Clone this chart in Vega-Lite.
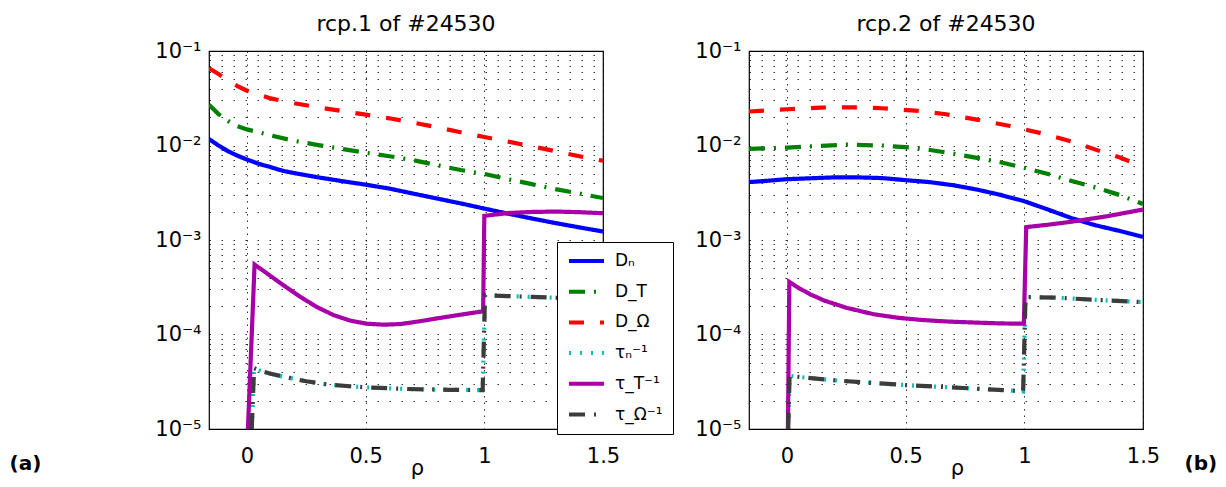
{
  "$schema": "https://vega.github.io/schema/vega-lite/v6.json",
  "padding": {"left": 8, "top": 12, "right": 5, "bottom": 2},
  "autosize": {"type": "pad"},
  "background": "white",
  "config": {
    "font": "DejaVu Sans",
    "view": {"stroke": "#000", "strokeWidth": 1.2},
    "axis": {"labelColor": "#000", "titleColor": "#000", "labelFont": "DejaVu Sans", "titleFont": "DejaVu Sans"}
  },
  "datasets": {
    "d": [
      {"p":1,"s":"Dₙ","x":-0.16,"y":0.0117},{"p":1,"s":"Dₙ","x":-0.12,"y":0.0100},{"p":1,"s":"Dₙ","x":-0.08,"y":0.0087},{"p":1,"s":"Dₙ","x":-0.04,"y":0.0078},{"p":1,"s":"Dₙ","x":0,"y":0.0071},{"p":1,"s":"Dₙ","x":0.05,"y":0.0064},{"p":1,"s":"Dₙ","x":0.1,"y":0.0059},{"p":1,"s":"Dₙ","x":0.15,"y":0.0054},{"p":1,"s":"Dₙ","x":0.2,"y":0.0051},{"p":1,"s":"Dₙ","x":0.3,"y":0.0046},{"p":1,"s":"Dₙ","x":0.4,"y":0.0042},{"p":1,"s":"Dₙ","x":0.5,"y":0.00385},{"p":1,"s":"Dₙ","x":0.6,"y":0.0035},{"p":1,"s":"Dₙ","x":0.7,"y":0.0031},{"p":1,"s":"Dₙ","x":0.8,"y":0.00275},{"p":1,"s":"Dₙ","x":0.9,"y":0.00244},{"p":1,"s":"Dₙ","x":1.0,"y":0.00215},{"p":1,"s":"Dₙ","x":1.1,"y":0.0019},{"p":1,"s":"Dₙ","x":1.2,"y":0.00169},{"p":1,"s":"Dₙ","x":1.3,"y":0.00151},{"p":1,"s":"Dₙ","x":1.4,"y":0.00136},{"p":1,"s":"Dₙ","x":1.5,"y":0.00123},
      {"p":1,"s":"D_T","x":-0.16,"y":0.027},{"p":1,"s":"D_T","x":-0.12,"y":0.0215},{"p":1,"s":"D_T","x":-0.08,"y":0.0182},{"p":1,"s":"D_T","x":-0.04,"y":0.016},{"p":1,"s":"D_T","x":0,"y":0.0148},{"p":1,"s":"D_T","x":0.05,"y":0.0138},{"p":1,"s":"D_T","x":0.1,"y":0.0128},{"p":1,"s":"D_T","x":0.2,"y":0.0112},{"p":1,"s":"D_T","x":0.3,"y":0.0101},{"p":1,"s":"D_T","x":0.4,"y":0.0092},{"p":1,"s":"D_T","x":0.5,"y":0.0084},{"p":1,"s":"D_T","x":0.6,"y":0.0077},{"p":1,"s":"D_T","x":0.7,"y":0.007},{"p":1,"s":"D_T","x":0.8,"y":0.0062},{"p":1,"s":"D_T","x":0.9,"y":0.0055},{"p":1,"s":"D_T","x":1.0,"y":0.005},{"p":1,"s":"D_T","x":1.1,"y":0.0044},{"p":1,"s":"D_T","x":1.2,"y":0.0039},{"p":1,"s":"D_T","x":1.3,"y":0.00345},{"p":1,"s":"D_T","x":1.4,"y":0.0031},{"p":1,"s":"D_T","x":1.5,"y":0.00278},
      {"p":1,"s":"D_Ω","x":-0.16,"y":0.0655},{"p":1,"s":"D_Ω","x":-0.12,"y":0.057},{"p":1,"s":"D_Ω","x":-0.08,"y":0.049},{"p":1,"s":"D_Ω","x":-0.04,"y":0.0425},{"p":1,"s":"D_Ω","x":0,"y":0.038},{"p":1,"s":"D_Ω","x":0.05,"y":0.0345},{"p":1,"s":"D_Ω","x":0.1,"y":0.0315},{"p":1,"s":"D_Ω","x":0.2,"y":0.028},{"p":1,"s":"D_Ω","x":0.3,"y":0.0253},{"p":1,"s":"D_Ω","x":0.4,"y":0.0232},{"p":1,"s":"D_Ω","x":0.5,"y":0.0212},{"p":1,"s":"D_Ω","x":0.6,"y":0.0194},{"p":1,"s":"D_Ω","x":0.7,"y":0.0175},{"p":1,"s":"D_Ω","x":0.8,"y":0.0156},{"p":1,"s":"D_Ω","x":0.9,"y":0.0138},{"p":1,"s":"D_Ω","x":1.0,"y":0.0123},{"p":1,"s":"D_Ω","x":1.1,"y":0.011},{"p":1,"s":"D_Ω","x":1.2,"y":0.0098},{"p":1,"s":"D_Ω","x":1.3,"y":0.0087},{"p":1,"s":"D_Ω","x":1.4,"y":0.0077},{"p":1,"s":"D_Ω","x":1.5,"y":0.0069},
      {"p":1,"s":"τₙ⁻¹","x":0.02,"y":1e-5},{"p":1,"s":"τₙ⁻¹","x":0.03,"y":4.4e-5},{"p":1,"s":"τₙ⁻¹","x":0.06,"y":4.1e-5},{"p":1,"s":"τₙ⁻¹","x":0.1,"y":3.85e-5},{"p":1,"s":"τₙ⁻¹","x":0.155,"y":3.57e-5},{"p":1,"s":"τₙ⁻¹","x":0.25,"y":3.2e-5},{"p":1,"s":"τₙ⁻¹","x":0.34,"y":2.96e-5},{"p":1,"s":"τₙ⁻¹","x":0.42,"y":2.85e-5},{"p":1,"s":"τₙ⁻¹","x":0.5,"y":2.76e-5},{"p":1,"s":"τₙ⁻¹","x":0.675,"y":2.65e-5},{"p":1,"s":"τₙ⁻¹","x":0.85,"y":2.6e-5},{"p":1,"s":"τₙ⁻¹","x":0.993,"y":2.58e-5},{"p":1,"s":"τₙ⁻¹","x":1.003,"y":2.6e-4},{"p":1,"s":"τₙ⁻¹","x":1.1,"y":2.55e-4},{"p":1,"s":"τₙ⁻¹","x":1.2,"y":2.5e-4},{"p":1,"s":"τₙ⁻¹","x":1.3,"y":2.45e-4},{"p":1,"s":"τₙ⁻¹","x":1.4,"y":2.42e-4},{"p":1,"s":"τₙ⁻¹","x":1.5,"y":2.4e-4},
      {"p":1,"s":"τ_T⁻¹","x":0.004,"y":1e-5},{"p":1,"s":"τ_T⁻¹","x":0.032,"y":5.5e-4},{"p":1,"s":"τ_T⁻¹","x":0.06,"y":4.9e-4},{"p":1,"s":"τ_T⁻¹","x":0.1,"y":4.15e-4},{"p":1,"s":"τ_T⁻¹","x":0.155,"y":3.3e-4},{"p":1,"s":"τ_T⁻¹","x":0.225,"y":2.5e-4},{"p":1,"s":"τ_T⁻¹","x":0.295,"y":1.95e-4},{"p":1,"s":"τ_T⁻¹","x":0.366,"y":1.6e-4},{"p":1,"s":"τ_T⁻¹","x":0.436,"y":1.4e-4},{"p":1,"s":"τ_T⁻¹","x":0.506,"y":1.3e-4},{"p":1,"s":"τ_T⁻¹","x":0.577,"y":1.27e-4},{"p":1,"s":"τ_T⁻¹","x":0.647,"y":1.29e-4},{"p":1,"s":"τ_T⁻¹","x":0.72,"y":1.37e-4},{"p":1,"s":"τ_T⁻¹","x":0.8,"y":1.48e-4},{"p":1,"s":"τ_T⁻¹","x":0.9,"y":1.62e-4},{"p":1,"s":"τ_T⁻¹","x":0.995,"y":1.76e-4},{"p":1,"s":"τ_T⁻¹","x":1.0,"y":1.8e-3},{"p":1,"s":"τ_T⁻¹","x":1.1,"y":1.93e-3},{"p":1,"s":"τ_T⁻¹","x":1.2,"y":1.98e-3},{"p":1,"s":"τ_T⁻¹","x":1.3,"y":2.0e-3},{"p":1,"s":"τ_T⁻¹","x":1.4,"y":1.97e-3},{"p":1,"s":"τ_T⁻¹","x":1.5,"y":1.92e-3},
      {"p":1,"s":"τ_Ω⁻¹","x":0.02,"y":1e-5},{"p":1,"s":"τ_Ω⁻¹","x":0.03,"y":4.4e-5},{"p":1,"s":"τ_Ω⁻¹","x":0.06,"y":4.1e-5},{"p":1,"s":"τ_Ω⁻¹","x":0.1,"y":3.85e-5},{"p":1,"s":"τ_Ω⁻¹","x":0.155,"y":3.57e-5},{"p":1,"s":"τ_Ω⁻¹","x":0.25,"y":3.2e-5},{"p":1,"s":"τ_Ω⁻¹","x":0.34,"y":2.96e-5},{"p":1,"s":"τ_Ω⁻¹","x":0.42,"y":2.85e-5},{"p":1,"s":"τ_Ω⁻¹","x":0.5,"y":2.76e-5},{"p":1,"s":"τ_Ω⁻¹","x":0.675,"y":2.65e-5},{"p":1,"s":"τ_Ω⁻¹","x":0.85,"y":2.6e-5},{"p":1,"s":"τ_Ω⁻¹","x":0.993,"y":2.58e-5},{"p":1,"s":"τ_Ω⁻¹","x":1.003,"y":2.6e-4},{"p":1,"s":"τ_Ω⁻¹","x":1.1,"y":2.55e-4},{"p":1,"s":"τ_Ω⁻¹","x":1.2,"y":2.5e-4},{"p":1,"s":"τ_Ω⁻¹","x":1.3,"y":2.45e-4},{"p":1,"s":"τ_Ω⁻¹","x":1.4,"y":2.42e-4},{"p":1,"s":"τ_Ω⁻¹","x":1.5,"y":2.4e-4},
      {"p":2,"s":"Dₙ","x":-0.16,"y":0.0041},{"p":2,"s":"Dₙ","x":-0.1,"y":0.0042},{"p":2,"s":"Dₙ","x":0,"y":0.0044},{"p":2,"s":"Dₙ","x":0.1,"y":0.0045},{"p":2,"s":"Dₙ","x":0.2,"y":0.0046},{"p":2,"s":"Dₙ","x":0.3,"y":0.0046},{"p":2,"s":"Dₙ","x":0.4,"y":0.00452},{"p":2,"s":"Dₙ","x":0.5,"y":0.0043},{"p":2,"s":"Dₙ","x":0.6,"y":0.0041},{"p":2,"s":"Dₙ","x":0.7,"y":0.0038},{"p":2,"s":"Dₙ","x":0.8,"y":0.00342},{"p":2,"s":"Dₙ","x":0.9,"y":0.003},{"p":2,"s":"Dₙ","x":1.0,"y":0.00257},{"p":2,"s":"Dₙ","x":1.1,"y":0.0021},{"p":2,"s":"Dₙ","x":1.2,"y":0.0017},{"p":2,"s":"Dₙ","x":1.3,"y":0.00143},{"p":2,"s":"Dₙ","x":1.4,"y":0.00125},{"p":2,"s":"Dₙ","x":1.5,"y":0.00108},
      {"p":2,"s":"D_T","x":-0.16,"y":0.0092},{"p":2,"s":"D_T","x":0,"y":0.0095},{"p":2,"s":"D_T","x":0.1,"y":0.0098},{"p":2,"s":"D_T","x":0.25,"y":0.0102},{"p":2,"s":"D_T","x":0.4,"y":0.01},{"p":2,"s":"D_T","x":0.55,"y":0.0094},{"p":2,"s":"D_T","x":0.7,"y":0.0082},{"p":2,"s":"D_T","x":0.8,"y":0.0074},{"p":2,"s":"D_T","x":0.9,"y":0.00665},{"p":2,"s":"D_T","x":1.0,"y":0.0058},{"p":2,"s":"D_T","x":1.1,"y":0.005},{"p":2,"s":"D_T","x":1.2,"y":0.0042},{"p":2,"s":"D_T","x":1.3,"y":0.0036},{"p":2,"s":"D_T","x":1.4,"y":0.003},{"p":2,"s":"D_T","x":1.5,"y":0.0024},
      {"p":2,"s":"D_Ω","x":-0.16,"y":0.0229},{"p":2,"s":"D_Ω","x":0,"y":0.0242},{"p":2,"s":"D_Ω","x":0.14,"y":0.0252},{"p":2,"s":"D_Ω","x":0.28,"y":0.0254},{"p":2,"s":"D_Ω","x":0.4,"y":0.0248},{"p":2,"s":"D_Ω","x":0.54,"y":0.0234},{"p":2,"s":"D_Ω","x":0.67,"y":0.0214},{"p":2,"s":"D_Ω","x":0.8,"y":0.0188},{"p":2,"s":"D_Ω","x":0.94,"y":0.0161},{"p":2,"s":"D_Ω","x":1.07,"y":0.0135},{"p":2,"s":"D_Ω","x":1.2,"y":0.011},{"p":2,"s":"D_Ω","x":1.32,"y":0.0087},{"p":2,"s":"D_Ω","x":1.4,"y":0.0075},{"p":2,"s":"D_Ω","x":1.5,"y":0.006},
      {"p":2,"s":"τₙ⁻¹","x":0.005,"y":1e-5},{"p":2,"s":"τₙ⁻¹","x":0.011,"y":3.65e-5},{"p":2,"s":"τₙ⁻¹","x":0.1,"y":3.45e-5},{"p":2,"s":"τₙ⁻¹","x":0.224,"y":3.24e-5},{"p":2,"s":"τₙ⁻¹","x":0.505,"y":2.91e-5},{"p":2,"s":"τₙ⁻¹","x":0.785,"y":2.68e-5},{"p":2,"s":"τₙ⁻¹","x":0.968,"y":2.53e-5},{"p":2,"s":"τₙ⁻¹","x":0.995,"y":2.5e-5},{"p":2,"s":"τₙ⁻¹","x":1.005,"y":2.5e-4},{"p":2,"s":"τₙ⁻¹","x":1.135,"y":2.45e-4},{"p":2,"s":"τₙ⁻¹","x":1.3,"y":2.33e-4},{"p":2,"s":"τₙ⁻¹","x":1.5,"y":2.2e-4},
      {"p":2,"s":"τ_T⁻¹","x":0.004,"y":1e-5},{"p":2,"s":"τ_T⁻¹","x":0.01,"y":3.6e-4},{"p":2,"s":"τ_T⁻¹","x":0.05,"y":3.1e-4},{"p":2,"s":"τ_T⁻¹","x":0.1,"y":2.65e-4},{"p":2,"s":"τ_T⁻¹","x":0.154,"y":2.3e-4},{"p":2,"s":"τ_T⁻¹","x":0.25,"y":1.92e-4},{"p":2,"s":"τ_T⁻¹","x":0.364,"y":1.64e-4},{"p":2,"s":"τ_T⁻¹","x":0.47,"y":1.5e-4},{"p":2,"s":"τ_T⁻¹","x":0.575,"y":1.42e-4},{"p":2,"s":"τ_T⁻¹","x":0.68,"y":1.37e-4},{"p":2,"s":"τ_T⁻¹","x":0.785,"y":1.34e-4},{"p":2,"s":"τ_T⁻¹","x":0.9,"y":1.31e-4},{"p":2,"s":"τ_T⁻¹","x":0.998,"y":1.3e-4},{"p":2,"s":"τ_T⁻¹","x":1.008,"y":1.37e-3},{"p":2,"s":"τ_T⁻¹","x":1.1,"y":1.45e-3},{"p":2,"s":"τ_T⁻¹","x":1.206,"y":1.57e-3},{"p":2,"s":"τ_T⁻¹","x":1.346,"y":1.78e-3},{"p":2,"s":"τ_T⁻¹","x":1.5,"y":2.1e-3},
      {"p":2,"s":"τ_Ω⁻¹","x":0.005,"y":1e-5},{"p":2,"s":"τ_Ω⁻¹","x":0.011,"y":3.65e-5},{"p":2,"s":"τ_Ω⁻¹","x":0.1,"y":3.45e-5},{"p":2,"s":"τ_Ω⁻¹","x":0.224,"y":3.24e-5},{"p":2,"s":"τ_Ω⁻¹","x":0.505,"y":2.91e-5},{"p":2,"s":"τ_Ω⁻¹","x":0.785,"y":2.68e-5},{"p":2,"s":"τ_Ω⁻¹","x":0.968,"y":2.53e-5},{"p":2,"s":"τ_Ω⁻¹","x":0.995,"y":2.5e-5},{"p":2,"s":"τ_Ω⁻¹","x":1.005,"y":2.5e-4},{"p":2,"s":"τ_Ω⁻¹","x":1.135,"y":2.45e-4},{"p":2,"s":"τ_Ω⁻¹","x":1.3,"y":2.33e-4},{"p":2,"s":"τ_Ω⁻¹","x":1.5,"y":2.2e-4}
    ]
  },
  "spacing": 146,
  "bounds": "flush",
  "resolve": {"scale": {"color": "shared", "strokeDash": "shared"}, "legend": {"color": "shared", "strokeDash": "shared"}},
  "hconcat": [
    {
      "width": 394, "height": 378,
      "title": {"text": "rcp.1 of #24530", "fontSize": 22, "fontWeight": "normal", "font": "DejaVu Sans", "color": "#000", "anchor": "middle", "frame": "group", "baseline": "alphabetic", "offset": -13},
      "data": {"name": "d"},
      "transform": [{"filter": "datum.p == 1"}],
      "mark": {"type": "line", "clip": true, "strokeWidth": 4.2, "strokeCap": "butt", "strokeJoin": "miter"},
      "encoding": {
        "x": {"field": "x", "type": "quantitative", "scale": {"domain": [-0.16, 1.5], "nice": false, "zero": false},
          "axis": {"values": [0, 0.5, 1, 1.5], "format": ".2~f", "grid": true, "gridDash": [1.5, 5], "gridColor": "#000", "gridOpacity": 0.8, "ticks": false, "domain": false, "labelFontSize": 21, "labelPadding": 16, "labelFlush": false, "title": "ρ", "titleFontSize": 21, "titleFontWeight": "normal", "titleX": 208, "titleY": 45, "titleBaseline": "alphabetic"}},
        "y": {"field": "y", "type": "quantitative", "scale": {"type": "log", "domain": [1e-5, 0.1], "nice": false},
          "axis": {"values": [1e-5,2e-5,3e-5,4e-5,5e-5,6e-5,7e-5,8e-5,9e-5,1e-4,2e-4,3e-4,4e-4,5e-4,6e-4,7e-4,8e-4,9e-4,1e-3,2e-3,3e-3,4e-3,5e-3,6e-3,7e-3,8e-3,9e-3,0.01,0.02,0.03,0.04,0.05,0.06,0.07,0.08,0.09,0.1],
            "labelExpr": "datum.value < 1.5e-5 ? '10⁻⁵' : (datum.value > 0.9e-4 && datum.value < 1.1e-4) ? '10⁻⁴' : (datum.value > 0.9e-3 && datum.value < 1.1e-3) ? '10⁻³' : (datum.value > 0.9e-2 && datum.value < 1.1e-2) ? '10⁻²' : datum.value > 0.095 ? '10⁻¹' : ''",
            "labelOverlap": false, "labelFlush": false, "grid": true, "gridDash": [1.5, 10.5], "gridColor": "#000", "gridOpacity": 0.8, "ticks": false, "domain": false, "labelFontSize": 21, "labelPadding": 8,
            "title": "(a)", "titleAngle": 0, "titleX": -200, "titleY": 412, "titleAlign": "left", "titleBaseline": "middle", "titleFontWeight": "bold", "titleFontSize": 20}},
        "color": {"field": "s", "type": "nominal",
          "scale": {"domain": ["Dₙ","D_T","D_Ω","τₙ⁻¹","τ_T⁻¹","τ_Ω⁻¹"], "range": ["#0000ff","#008000","#ff0000","#00bfbf","#a800a8","#3c3c3c"]},
          "legend": {"orient": "none", "legendX": 348, "legendY": 191, "title": null, "symbolType": "stroke", "symbolSize": 1225, "symbolStrokeWidth": 4, "labelFontSize": 17, "labelFont": "DejaVu Sans", "labelColor": "#000", "labelOffset": 9, "padding": 10, "rowPadding": 12.7, "clipHeight": 18, "strokeColor": "#000", "fillColor": "#fff", "cornerRadius": 0}},
        "strokeDash": {"field": "s", "type": "nominal",
          "scale": {"domain": ["Dₙ","D_T","D_Ω","τₙ⁻¹","τ_T⁻¹","τ_Ω⁻¹"], "range": [[1,0],[16,9,2,9],[15,16],[2,9],[1,0],[16,9,2,9]]},
          "legend": {"orient": "none", "legendX": 348, "legendY": 191, "title": null, "symbolType": "stroke", "symbolSize": 1225, "symbolStrokeWidth": 4, "labelFontSize": 17, "labelFont": "DejaVu Sans", "labelColor": "#000", "labelOffset": 9, "padding": 10, "rowPadding": 12.7, "clipHeight": 18, "strokeColor": "#000", "fillColor": "#fff", "cornerRadius": 0}}
      }
    },
    {
      "width": 394, "height": 378,
      "title": {"text": "rcp.2 of #24530", "fontSize": 22, "fontWeight": "normal", "font": "DejaVu Sans", "color": "#000", "anchor": "middle", "frame": "group", "baseline": "alphabetic", "offset": -13},
      "data": {"name": "d"},
      "transform": [{"filter": "datum.p == 2"}],
      "mark": {"type": "line", "clip": true, "strokeWidth": 4.2, "strokeCap": "butt", "strokeJoin": "miter"},
      "encoding": {
        "x": {"field": "x", "type": "quantitative", "scale": {"domain": [-0.16, 1.5], "nice": false, "zero": false},
          "axis": {"values": [0, 0.5, 1, 1.5], "format": ".2~f", "grid": true, "gridDash": [1.5, 5], "gridColor": "#000", "gridOpacity": 0.8, "ticks": false, "domain": false, "labelFontSize": 21, "labelPadding": 16, "labelFlush": false, "title": "ρ", "titleFontSize": 21, "titleFontWeight": "normal", "titleX": 208, "titleY": 45, "titleBaseline": "alphabetic"}},
        "y": {"field": "y", "type": "quantitative", "scale": {"type": "log", "domain": [1e-5, 0.1], "nice": false},
          "axis": {"values": [1e-5,2e-5,3e-5,4e-5,5e-5,6e-5,7e-5,8e-5,9e-5,1e-4,2e-4,3e-4,4e-4,5e-4,6e-4,7e-4,8e-4,9e-4,1e-3,2e-3,3e-3,4e-3,5e-3,6e-3,7e-3,8e-3,9e-3,0.01,0.02,0.03,0.04,0.05,0.06,0.07,0.08,0.09,0.1],
            "labelExpr": "datum.value < 1.5e-5 ? '10⁻⁵' : (datum.value > 0.9e-4 && datum.value < 1.1e-4) ? '10⁻⁴' : (datum.value > 0.9e-3 && datum.value < 1.1e-3) ? '10⁻³' : (datum.value > 0.9e-2 && datum.value < 1.1e-2) ? '10⁻²' : datum.value > 0.095 ? '10⁻¹' : ''",
            "labelOverlap": false, "labelFlush": false, "grid": true, "gridDash": [1.5, 10.5], "gridColor": "#000", "gridOpacity": 0.8, "ticks": false, "domain": false, "labelFontSize": 21, "labelPadding": 8,
            "title": "(b)", "titleAngle": 0, "titleX": 435, "titleY": 412, "titleAlign": "left", "titleBaseline": "middle", "titleFontWeight": "bold", "titleFontSize": 20}},
        "color": {"field": "s", "type": "nominal",
          "scale": {"domain": ["Dₙ","D_T","D_Ω","τₙ⁻¹","τ_T⁻¹","τ_Ω⁻¹"], "range": ["#0000ff","#008000","#ff0000","#00bfbf","#a800a8","#3c3c3c"]},
          "legend": {"orient": "none", "legendX": 348, "legendY": 191, "title": null, "symbolType": "stroke", "symbolSize": 1225, "symbolStrokeWidth": 4, "labelFontSize": 17, "labelFont": "DejaVu Sans", "labelColor": "#000", "labelOffset": 9, "padding": 10, "rowPadding": 12.7, "clipHeight": 18, "strokeColor": "#000", "fillColor": "#fff", "cornerRadius": 0}},
        "strokeDash": {"field": "s", "type": "nominal",
          "scale": {"domain": ["Dₙ","D_T","D_Ω","τₙ⁻¹","τ_T⁻¹","τ_Ω⁻¹"], "range": [[1,0],[16,9,2,9],[15,16],[2,9],[1,0],[16,9,2,9]]},
          "legend": {"orient": "none", "legendX": 348, "legendY": 191, "title": null, "symbolType": "stroke", "symbolSize": 1225, "symbolStrokeWidth": 4, "labelFontSize": 17, "labelFont": "DejaVu Sans", "labelColor": "#000", "labelOffset": 9, "padding": 10, "rowPadding": 12.7, "clipHeight": 18, "strokeColor": "#000", "fillColor": "#fff", "cornerRadius": 0}}
      }
    }
  ]
}
